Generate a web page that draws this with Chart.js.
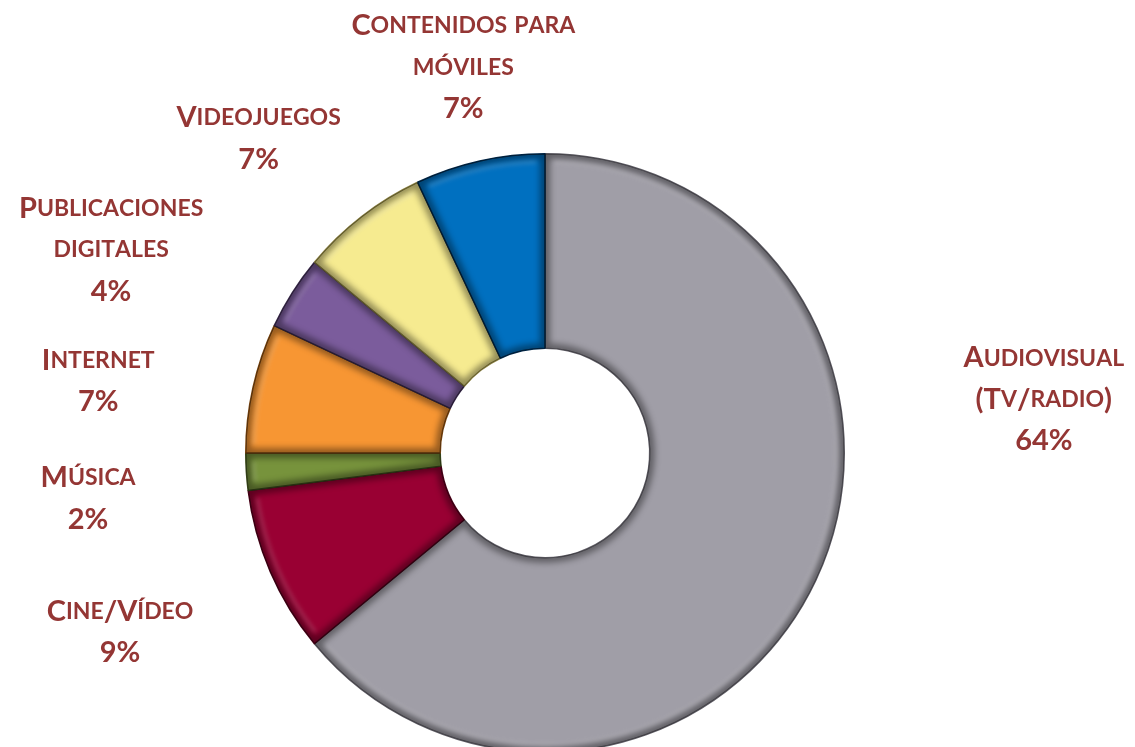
<!DOCTYPE html>
<html>
<head>
<meta charset="utf-8">
<script src="https://cdn.jsdelivr.net/npm/chart.js@4.4.1/dist/chart.umd.min.js"></script>
<style>
  html, body { margin: 0; padding: 0; background: #fff; overflow: hidden; }
  #wrap { width: 1135px; height: 760px; }
</style>
</head>
<body>
<div id="wrap"><canvas id="myChart" width="1135" height="760"></canvas></div>
<script>
// data
const categories = ['Audiovisual (Tv/radio)', 'Cine/Vídeo', 'Música', 'Internet',
  'Publicaciones digitales', 'Videojuegos', 'Contenidos para móviles'];
const shares = [64, 9, 2, 7, 4, 7, 7];
// how each category label is broken into lines (lower case = small caps)
const labelLines = [
  ['Audiovisual', '(Tv/radio)'],
  ['Cine/Vídeo'],
  ['Música'],
  ['Internet'],
  ['Publicaciones', 'digitales'],
  ['Videojuegos'],
  ['Contenidos para', 'móviles']
];

const sliceColors = ['#A09EA7', '#990033', '#77933C', '#F79633', '#7B5C9C', '#F6EB90', '#0070C0'];
const sliceEdges  = ['#5E5C64', '#4A0018', '#3B4A1C', '#7A4510', '#3A2A4C', '#8A8040', '#00284A'];

// label anchors: offset from the ring centre, in outer radii
const labelAnchor = [
  [1.667, -0.317], [-1.42, 0.53], [-1.527, 0.083], [-1.493, -0.31],
  [-1.45, -0.817], [-0.957, -1.12], [-0.273, -1.427]
];

const TEXT = '#943634';
const BIG = 29, SMALL = 23, LINE = 41.5;

function smallCapsWidth(ctx, s) {
  let w = 0;
  for (const ch of s) {
    const low = ch !== ch.toUpperCase();
    ctx.font = '700 ' + (low ? SMALL : BIG) + 'px Lato';
    w += ctx.measureText(low ? ch.toUpperCase() : ch).width;
  }
  return w;
}

function drawSmallCaps(ctx, s, cx, cy) {
  let x = cx - smallCapsWidth(ctx, s) / 2;
  for (const ch of s) {
    const low = ch !== ch.toUpperCase();
    const c = low ? ch.toUpperCase() : ch;
    ctx.font = '700 ' + (low ? SMALL : BIG) + 'px Lato';
    ctx.fillText(c, x, cy);
    x += ctx.measureText(c).width;
  }
}

const bevel = {
  id: 'bevel',
  afterDatasetsDraw(chart) {
    const ctx = chart.ctx;
    chart.getDatasetMeta(0).data.forEach((arc) => {
      const p = arc.getProps(['x', 'y', 'startAngle', 'endAngle', 'innerRadius', 'outerRadius'], true);
      ctx.save();
      ctx.beginPath();
      ctx.arc(p.x, p.y, p.outerRadius, p.startAngle, p.endAngle);
      ctx.arc(p.x, p.y, p.innerRadius, p.endAngle, p.startAngle, true);
      ctx.closePath();
      ctx.clip();
      ctx.filter = 'blur(3px)';
      ctx.lineWidth = 10;
      ctx.strokeStyle = 'rgba(0,0,0,0.4)';
      ctx.stroke();
      ctx.filter = 'blur(2px)';
      ctx.beginPath();
      ctx.arc(p.x, p.y, p.outerRadius - 8, p.startAngle + 0.03, p.endAngle - 0.03);
      ctx.lineWidth = 3;
      ctx.strokeStyle = 'rgba(255,255,255,0.18)';
      ctx.stroke();
      ctx.restore();
    });
  }
};

const sliceLabels = {
  id: 'sliceLabels',
  afterDraw(chart) {
    const ctx = chart.ctx;
    const arc = chart.getDatasetMeta(0).data[0];
    const r = arc.outerRadius;
    ctx.save();
    ctx.fillStyle = TEXT;
    ctx.textBaseline = 'middle';
    ctx.textAlign = 'left';
    labelLines.forEach((lines, i) => {
      const cx = arc.x + labelAnchor[i][0] * r;
      let cy = arc.y + labelAnchor[i][1] * r;
      lines.forEach((line) => { drawSmallCaps(ctx, line, cx, cy); cy += LINE; });
      drawSmallCaps(ctx, shares[i] + '%', cx, cy);
    });
    ctx.restore();
  }
};

const ctx = document.getElementById('myChart');
new Chart(ctx, {
  type: 'doughnut',
  data: {
    labels: categories,
    datasets: [{
      data: shares,
      backgroundColor: sliceColors,
      borderColor: sliceEdges,
      borderWidth: 1.5,
      hoverOffset: 0
    }]
  },
  options: {
    responsive: false,
    animation: false,
    cutout: '35%',
    layout: { padding: { left: 245, right: 290, top: 153, bottom: 7 } },
    plugins: { legend: { display: false }, tooltip: { enabled: false } }
  },
  plugins: [bevel, sliceLabels]
});
</script>
</body>
</html>
